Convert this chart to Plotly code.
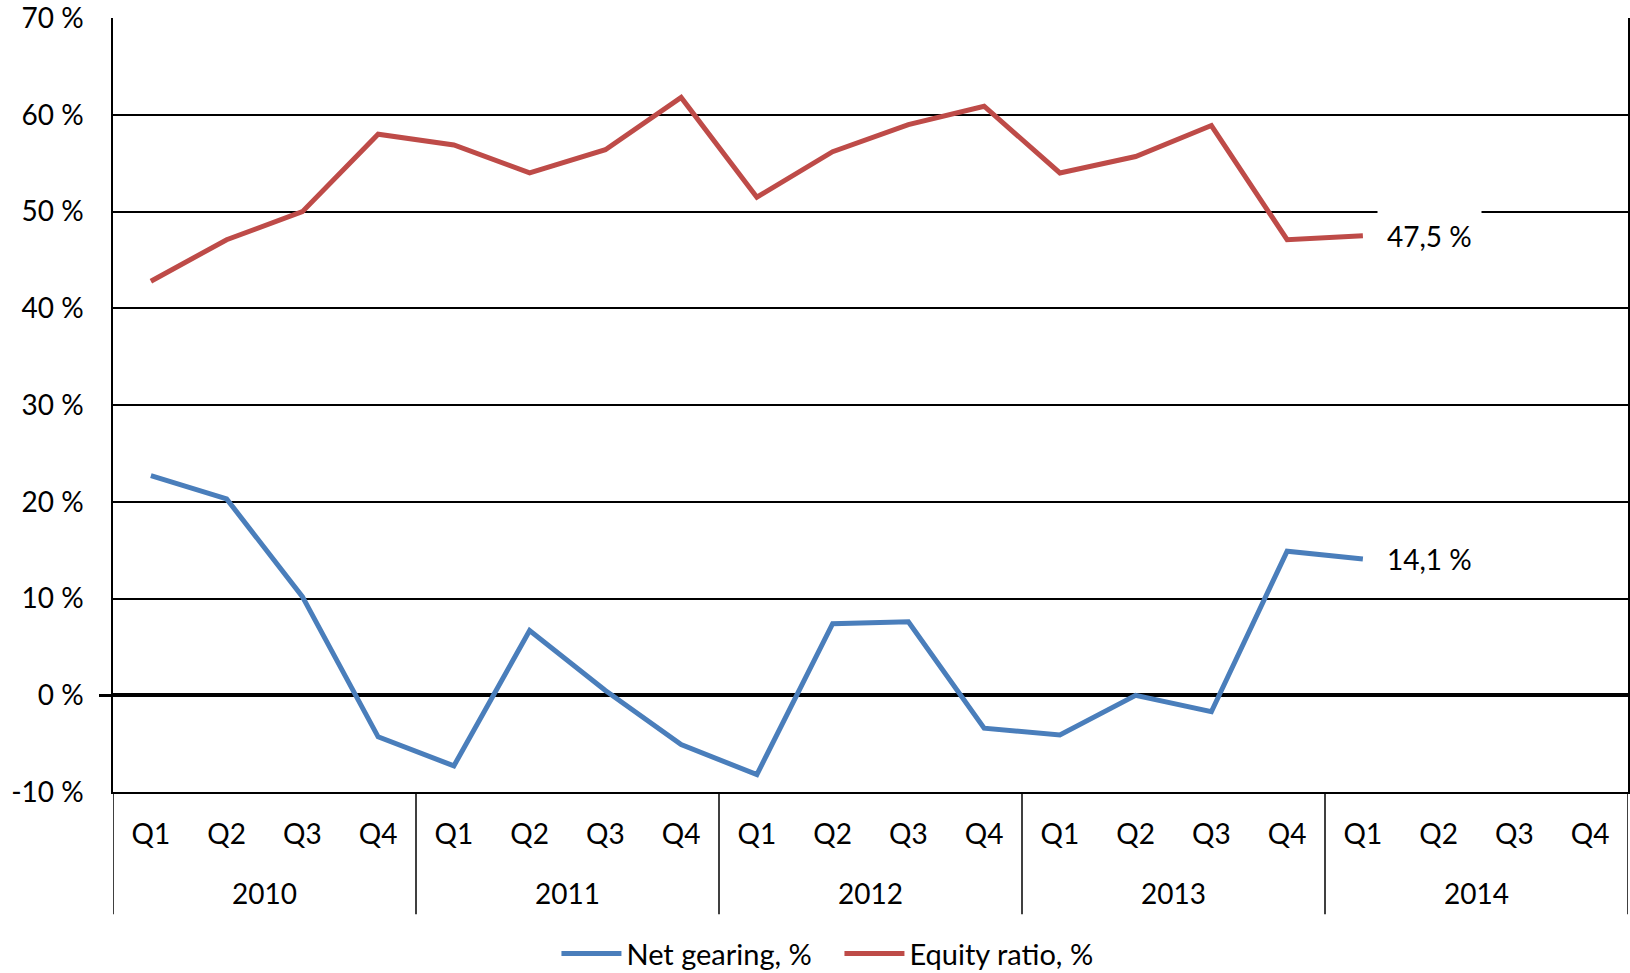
import plotly.graph_objects as go

years = ["2010", "2011", "2012", "2013", "2014"]
quarters = ["Q1", "Q2", "Q3", "Q4"] * 5

net_gearing = [22.7, 20.3, 10.2, -4.3,
               -7.3, 6.7, 0.5, -5.1,
               -8.2, 7.4, 7.6, -3.4,
               -4.1, 0.0, -1.7, 14.9,
               14.1, None, None, None]
equity_ratio = [42.8, 47.1, 50.0, 58.0,
                56.9, 54.0, 56.4, 61.8,
                51.5, 56.2, 59.0, 60.9,
                54.0, 55.7, 58.9, 47.1,
                47.5, None, None, None]
y_ticks = [-10, 0, 10, 20, 30, 40, 50, 60, 70]

BLUE = "#4A7EBB"
RED = "#BE4B48"
FONT = "Lato"
FS = 28

n = len(quarters)
per_year = n // len(years)
xs = list(range(n))
y_range = [-10, 70.02]

fig = go.Figure()
fig.add_trace(go.Scatter(x=xs, y=net_gearing, mode="lines",
                         name="Net gearing, %", line=dict(color=BLUE, width=5)))
fig.add_trace(go.Scatter(x=xs, y=equity_ratio, mode="lines",
                         name="Equity ratio, %", line=dict(color=RED, width=5)))
# invisible helper on overlay axis to draw the outward tick at 0 %
fig.add_trace(go.Scatter(x=[xs[0]], y=[0], yaxis="y2", mode="lines",
                         showlegend=False, hoverinfo="skip",
                         line=dict(color="rgba(0,0,0,0)")))

def fmt(v):
    return f"{v:.1f} %".replace(".", ",")

for series in (equity_ratio, net_gearing):
    idx = max(i for i, v in enumerate(series) if v is not None)
    fig.add_annotation(x=idx, y=series[idx], xref="x", yref="y",
                       text=fmt(series[idx]), showarrow=False,
                       xanchor="left", yanchor="middle", xshift=14,
                       bgcolor="white", borderpad=9,
                       font=dict(family=FONT, size=FS, color="black"))

# year group labels and dividers (second level of the category axis)
for k, yr in enumerate(years):
    center = (k * per_year + (k + 1) * per_year - 1) / 2
    fig.add_annotation(x=center, y=-0.131, xref="x", yref="paper",
                       text=yr, showarrow=False, xanchor="center", yanchor="middle",
                       font=dict(family=FONT, size=FS, color="black"))
for k in range(len(years) + 1):
    bx = k * per_year - 0.5
    fig.add_shape(type="line", xref="x", yref="paper", x0=bx, x1=bx, y0=0, y1=-0.158,
                  line=dict(color="black", width=1.5))

fig.update_layout(
    width=1630, height=973,
    margin=dict(l=113, r=2, t=18, b=181, autoexpand=False),
    paper_bgcolor="white", plot_bgcolor="white",
    font=dict(family=FONT, size=FS, color="black"),
    showlegend=True,
    legend=dict(orientation="h", xref="container", yref="container",
                x=0.515, xanchor="center", y=0.02, yanchor="middle",
                itemwidth=60, entrywidth=208,
                font=dict(family=FONT, size=29, color="black")),
    yaxis2=dict(overlaying="y", side="left", range=y_range, tickvals=[0],
                ticktext=[""], ticks="outside", ticklen=13, tickwidth=3,
                tickcolor="black", showgrid=False, zeroline=False,
                showline=False, automargin=False),
)
fig.layout.yaxis.update(range=y_range, tickvals=y_ticks,
                        ticktext=[f"{v} %" for v in y_ticks],
                        showgrid=True, gridcolor="black", gridwidth=1.6,
                        zeroline=True, zerolinecolor="black", zerolinewidth=3.5,
                        showline=True, linecolor="black", linewidth=1.5, mirror=True,
                        ticks="", ticklabelstandoff=22, automargin=False,
                        ticklabeloverflow="allow")
fig.update_xaxes(range=[-0.5, n - 0.5], tickvals=xs, ticktext=quarters,
                 showgrid=False, zeroline=False,
                 showline=True, linecolor="black", linewidth=1.5,
                 ticks="", ticklabelstandoff=17, automargin=False)

fig.write_html("out.html")
